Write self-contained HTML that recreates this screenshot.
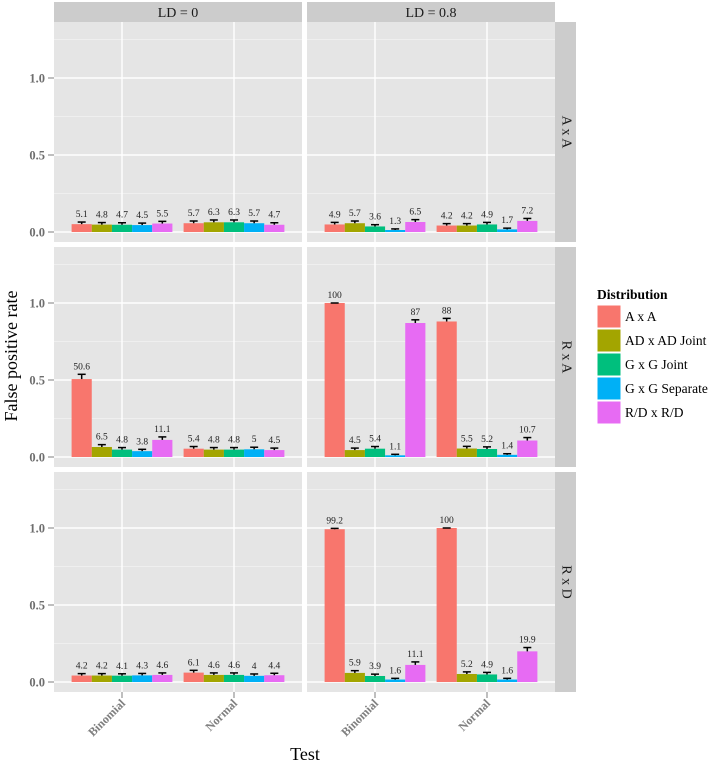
<!DOCTYPE html>
<html><head><meta charset="utf-8"><style>
html,body{margin:0;padding:0;background:#fff;}
svg{display:block;font-family:"Liberation Serif",serif;}
</style></head><body>
<svg id="chart" width="724" height="767" viewBox="0 0 724 767" xmlns="http://www.w3.org/2000/svg"></svg>
<script>
const categories = ["Binomial", "Normal"];
const seriesNames = ["A x A", "AD x AD Joint", "G x G Joint", "G x G Separate", "R/D x R/D"];
const colors = ["#F8766D", "#A3A500", "#00BF7D", "#00B0F6", "#E76BF3"];
const colLabels = ["LD = 0", "LD = 0.8"];
const rowLabels = ["A x A", "R x A", "R x D"];
const yTicks = [0, 0.5, 1.0];
const yTickLabels = ["0.0", "0.5", "1.0"];
// values in percent: [row][col][category][series]
const rowAxA_LD0 = [[5.1,4.8,4.7,4.5,5.5],[5.7,6.3,6.3,5.7,4.7]];
const rowAxA_LD8 = [[4.9,5.7,3.6,1.3,6.5],[4.2,4.2,4.9,1.7,7.2]];
const rowRxA_LD0 = [[50.6,6.5,4.8,3.8,11.1],[5.4,4.8,4.8,5,4.5]];
const rowRxA_LD8 = [[100,4.5,5.4,1.1,87],[88,5.5,5.2,1.4,10.7]];
const rowRxD_LD0 = [[4.2,4.2,4.1,4.3,4.6],[6.1,4.6,4.6,4,4.4]];
const rowRxD_LD8 = [[99.2,5.9,3.9,1.6,11.1],[100,5.2,4.9,1.6,19.9]];
const data = [[rowAxA_LD0,rowAxA_LD8],[rowRxA_LD0,rowRxA_LD8],[rowRxD_LD0,rowRxD_LD8]];

const NS="http://www.w3.org/2000/svg";
const svg=document.getElementById('chart');
function mk(tag,attrs,parent,text){const e=document.createElementNS(NS,tag);for(const k in attrs)e.setAttribute(k,attrs[k]);if(text!==undefined)e.textContent=text;(parent||svg).appendChild(e);return e;}

const colX=[54,307], panelW=248;
const rowY=[22,247,472], panelH=220;
const step=112, catOffset=68;
function xPos(c,ci){return colX[c]+catOffset+ci*step;}
function yPos(r,v){return rowY[r]+210-v*154;}

for(let r=0;r<3;r++){
  for(let c=0;c<2;c++){
    const g=mk('g',{});
    
    
    const x0=colX[c], y0=rowY[r];
    mk('rect',{x:x0,y:y0,width:panelW,height:panelH,fill:'#E5E5E5'},g);
    [0.25,0.75,1.25].forEach(v=>mk('line',{x1:x0,x2:x0+panelW,y1:yPos(r,v),y2:yPos(r,v),stroke:'#F2F2F2','stroke-width':0.8},g));
    yTicks.forEach(v=>mk('line',{x1:x0,x2:x0+panelW,y1:yPos(r,v),y2:yPos(r,v),stroke:'#fff','stroke-width':1.4},g));
    categories.forEach((cat,ci)=>mk('line',{x1:xPos(c,ci),x2:xPos(c,ci),y1:y0,y2:y0+panelH,stroke:'#fff','stroke-width':1.4},g));
    const bw=step*0.9/5;
    categories.forEach((cat,ci)=>{
      data[r][c][ci].forEach((val,si)=>{
        const p=val/100;
        const bx=xPos(c,ci)-step*0.45+si*bw;
        const yb=yPos(r,0), yt=yPos(r,p);
        const bar=mk('rect',{x:bx,y:yt,width:bw,height:yb-yt,fill:colors[si]},g);
        
        
        const err=1.96*Math.sqrt(Math.max(p*(1-p),0.0004)/1000);
        const ye=yPos(r,Math.min(p+err,1.0));
        const cx=bx+bw/2;
        mk('line',{x1:cx,x2:cx,y1:yt,y2:ye,stroke:'#000','stroke-width':1.5},g);
        mk('line',{x1:cx-4,x2:cx+4,y1:ye,y2:ye,stroke:'#000','stroke-width':1.5},g);
        const t=mk('text',{x:cx,y:ye-5,'text-anchor':'middle','font-size':9.5,fill:'#222'},g,String(val));
        
        
      });
    });
  }
  const s=mk('rect',{x:555,y:rowY[r],width:21,height:panelH,fill:'#CCCCCC'});
  
  
  const cy=rowY[r]+panelH/2;
  mk('text',{x:566,y:cy,'text-anchor':'middle','dominant-baseline':'central','font-size':14,fill:'#1a1a1a',transform:'rotate(90 566 '+cy+')'},svg,rowLabels[r]);
  yTicks.forEach((v,i)=>{
    mk('line',{x1:48,x2:54,y1:yPos(r,v),y2:yPos(r,v),stroke:'#7F7F7F','stroke-width':1});
    const t=mk('text',{x:45,y:yPos(r,v)+4.5,'text-anchor':'end','font-size':12.5,'font-weight':'bold',fill:'#6E6E6E'},svg,yTickLabels[i]);
    
    
  });
}
for(let c=0;c<2;c++){
  const s=mk('rect',{x:colX[c],y:2,width:panelW,height:20,fill:'#CCCCCC'});
  
  
  mk('text',{x:colX[c]+panelW/2,y:17,'text-anchor':'middle','font-size':14,fill:'#1a1a1a'},svg,colLabels[c]);
  categories.forEach((cat,ci)=>{
    const x=xPos(c,ci);
    mk('line',{x1:x,x2:x,y1:692,y2:698,stroke:'#7F7F7F','stroke-width':1});
    const t=mk('text',{x:x+4,y:704,'text-anchor':'end','font-size':12,'font-weight':'bold',fill:'#7F7F7F',transform:'rotate(-45 '+(x+4)+' 704)'},svg,cat);
    
    
  });
}
const xt=mk('text',{x:305,y:760,'text-anchor':'middle','font-size':18,fill:'#000'},svg,'Test');


const yt=mk('text',{x:17,y:356,'text-anchor':'middle','font-size':18,fill:'#000',transform:'rotate(-90 17 356)'},svg,'False positive rate');


const lg=mk('g',{});


mk('text',{x:597,y:299,'font-size':13.5,'font-weight':'bold',fill:'#000'},lg,'Distribution');
seriesNames.forEach((n,i)=>{
  const y=305+i*24;
  const k=mk('rect',{x:597,y:y,width:24,height:23,fill:colors[i],stroke:'#fff','stroke-width':1},lg);
  
  
  const t=mk('text',{x:625,y:y+16,'font-size':13.5,fill:'#000'},lg,n);
  
  
});
</script>
</body></html>
